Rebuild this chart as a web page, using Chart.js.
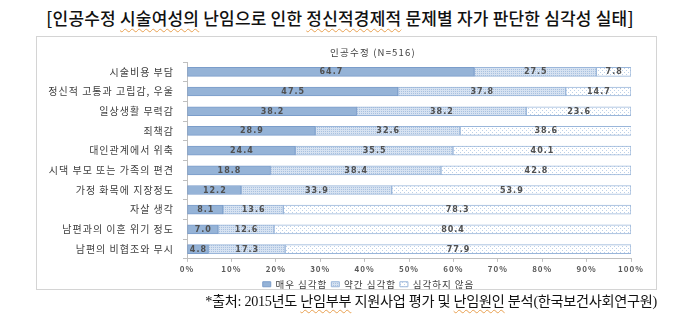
<!DOCTYPE html>
<html>
<head>
<meta charset="utf-8">
<script src="https://cdn.jsdelivr.net/npm/chart.js@4"></script>
<style>
  body { margin: 0; width: 680px; height: 325px; background: #fff; position: relative; overflow: hidden; }
  #title { position: absolute; top: 5px; left: 0; width: 680px; text-align: center;
           font-family: 'Noto Sans CJK KR', sans-serif; font-size: 17px; font-weight: 500; color: #111; letter-spacing: 0.2px; }
  .wavy { text-decoration: underline wavy #e8a050; text-decoration-thickness: 1px; text-underline-offset: 3px; }
  #frame { position: absolute; left: 36px; top: 36px; width: 619px; height: 252px; border: 1px solid #d4d4d4; }
  #plot { position: absolute; left: 37px; top: 37px; width: 619px; height: 262px; }
  #subtitle { position: absolute; top: 45px; left: 318px; width: 110px; text-align: center;
              font-family: 'Noto Sans CJK KR', sans-serif; font-size: 9.5px; color: #404040; letter-spacing: 1.2px; }
  #source { position: absolute; top: 290px; right: 23px; white-space: nowrap;
            font-family: 'Liberation Serif', 'Noto Sans CJK KR', serif; font-size: 14.2px; color: #111; letter-spacing: -0.3px; }
</style>
</head>
<body>
<div id="title">[인공수정 <span class="wavy">시술여성의</span> 난임으로 인한 <span class="wavy">정신적경제적</span> 문제별 자가 판단한 심각성 실태]</div>
<div id="frame"></div>
<div id="plot"><canvas id="chart"></canvas></div>
<div id="subtitle">인공수정 (N=516)</div>
<div id="source">*출처: 2015년도 <span class="wavy">난임부부</span> 지원사업 평가 및 <span class="wavy">난임원인</span> 분석(한국보건사회연구원)</div>
<script>
const categories = ['시술비용 부담', '정신적 고통과 고립감, 우울', '일상생활 무력감', '죄책감', '대인관계에서 위축',
  '시댁 부모 또는 가족의 편견', '가정 화목에 지장정도', '자살 생각', '남편과의 이혼 위기 정도', '남편의 비협조와 무시'];
const veryBad = [64.7, 47.5, 38.2, 28.9, 24.4, 18.8, 12.2, 8.1, 7.0, 4.8];
const someBad = [27.5, 37.8, 38.2, 32.6, 35.5, 38.4, 33.9, 13.6, 12.6, 17.3];
const notBad = [7.8, 14.7, 23.6, 38.6, 40.1, 42.8, 53.9, 78.3, 80.4, 77.9];
const xTicks = [0, 10, 20, 30, 40, 50, 60, 70, 80, 90, 100];

Chart.defaults.font.family = "'Noto Sans CJK KR', sans-serif";
Chart.defaults.color = '#404040';

// small tiled fills for the hatched segments
function makePattern(size, bg, dots, dotColor) {
  const c = document.createElement('canvas');
  c.width = size; c.height = size;
  const g = c.getContext('2d');
  g.fillStyle = bg;
  g.fillRect(0, 0, size, size);
  g.fillStyle = dotColor;
  dots.forEach(d => g.fillRect(d[0], d[1], 1, 1));
  return g.createPattern(c, 'repeat');
}
const ctx = document.getElementById('chart').getContext('2d');
const someFill = makePattern(2, '#d6e2f1', [[0, 0]], '#a9c1e0');
const notFill = makePattern(4, '#ffffff', [[1, 1], [3, 3]], '#bcd0e8');

// spread-out lettering for all chart text
const spacing = {
  id: 'spacing',
  beforeDraw(chart) { chart.ctx.letterSpacing = '1px'; },
  afterDraw(chart) { chart.ctx.letterSpacing = '0px'; }
};

// centre the legend on the whole frame, not just left of the right padding
const legendShift = {
  id: 'legendShift',
  afterLayout(chart) {
    chart.legend.left += 25;
    chart.legend.right += 25;
  }
};

// value text in the middle of each segment
const segmentLabels = {
  id: 'segmentLabels',
  afterDatasetsDraw(chart) {
    const c = chart.ctx;
    c.save();
    c.font = "bold 8px 'DejaVu Sans', sans-serif";
    c.fillStyle = '#505050';
    c.textAlign = 'center';
    c.textBaseline = 'middle';
    chart.data.datasets.forEach((ds, i) => {
      chart.getDatasetMeta(i).data.forEach((bar, j) => {
        c.fillText(ds.data[j].toFixed(1), (bar.x + bar.base) / 2 + 0.5, bar.y + 0.5);
      });
    });
    c.restore();
  }
};

new Chart(ctx, {
  type: 'bar',
  data: {
    labels: categories,
    datasets: [
      { label: '매우 심각함', data: veryBad, backgroundColor: '#95b3d7', borderColor: '#7b9dca', borderWidth: 1 },
      { label: '약간 심각함', data: someBad, backgroundColor: someFill, borderColor: '#9ab6da', borderWidth: 1 },
      { label: '심각하지 않음', data: notBad, backgroundColor: notFill, borderColor: '#9ab6da', borderWidth: 1 }
    ]
  },
  options: {
    indexAxis: 'y',
    responsive: true,
    maintainAspectRatio: false,
    animation: false,
    layout: { padding: { top: 25, right: 25, left: 0, bottom: 0 } },
    datasets: { bar: { barThickness: 9, borderSkipped: false } },
    scales: {
      x: {
        stacked: true, min: 0, max: 100,
        afterBuildTicks: s => { s.ticks = xTicks.map(v => ({ value: v })); },
        ticks: { callback: v => v + '%', font: { size: 8, weight: 'bold' }, color: '#595959', padding: 2 },
        grid: { drawOnChartArea: false, tickLength: 3, color: '#bfbfbf' },
        border: { color: '#bfbfbf' }
      },
      y: {
        stacked: true,
        afterFit: s => { s.width = 150; },
        ticks: { font: { size: 10 }, color: '#404040', padding: 9 },
        grid: { offset: true, drawOnChartArea: false, tickLength: 4, color: '#bfbfbf' },
        border: { color: '#bfbfbf' }
      }
    },
    plugins: {
      legend: {
        position: 'bottom',
        labels: { boxWidth: 8, boxHeight: 5, padding: 4, font: { size: 9.5 }, color: '#404040' }
      },
      tooltip: { enabled: false }
    }
  },
  plugins: [spacing, legendShift, segmentLabels]
});
</script>
</body>
</html>
